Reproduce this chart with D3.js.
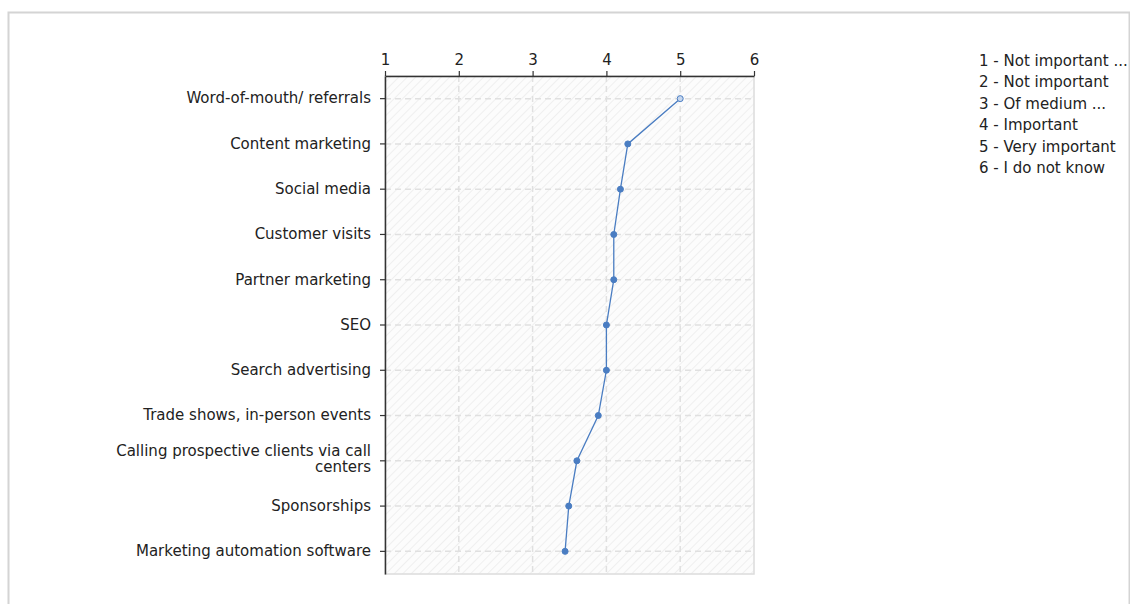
<!DOCTYPE html>
<html>
<head>
<meta charset="utf-8">
<script src="https://cdn.jsdelivr.net/npm/d3@7"></script>
<style>
  html, body { margin: 0; padding: 0; background: #fff; }
  svg { display: block; font-family: "DejaVu Sans", Verdana, sans-serif; }
</style>
</head>
<body>
<svg id="chart" width="1130" height="604"></svg>
<script>
// Channels, top to bottom
const categories = [
  "Word-of-mouth/ referrals",
  "Content marketing",
  "Social media",
  "Customer visits",
  "Partner marketing",
  "SEO",
  "Search advertising",
  "Trade shows, in-person events",
  "Calling prospective clients via call centers",
  "Sponsorships",
  "Marketing automation software"
];
// Mean importance rating per channel
const meanScores = [5.0, 4.29, 4.19, 4.1, 4.1, 4.0, 4.0, 3.89, 3.6, 3.49, 3.44];
// Rating scale
const scaleTicks = [1, 2, 3, 4, 5, 6];
const scaleLabels = [
  "1 - Not important ...",
  "2 - Not important",
  "3 - Of medium ...",
  "4 - Important",
  "5 - Very important",
  "6 - I do not know"
];

const svg = d3.select("#chart");
const plot = { left: 385, right: 754, top: 76, bottom: 574 };
const lineColor = "#4a7dc2";
const font = "DejaVu Sans, Verdana, sans-serif";

// outer panel frame
svg.append("rect")
  .attr("x", 8.5).attr("y", 12.5)
  .attr("width", 1121).attr("height", 600)
  .attr("fill", "none").attr("stroke", "#d4d4d4").attr("stroke-width", 2);

const defs = svg.append("defs");
const pat = defs.append("pattern")
  .attr("id", "hatch").attr("patternUnits", "userSpaceOnUse")
  .attr("width", 6).attr("height", 6)
  .attr("patternTransform", "rotate(45)");
pat.append("rect").attr("width", 6).attr("height", 6).attr("fill", "#fcfcfc");
pat.append("line").attr("x1", 0).attr("y1", 0).attr("x2", 0).attr("y2", 6)
  .attr("stroke", "#e8e8e8").attr("stroke-width", 1.3);

const x = d3.scaleLinear().domain([1, 6]).range([plot.left, plot.right]);
const y = d3.scaleBand().domain(categories).range([plot.top, plot.bottom]);
const yc = d => y(d) + y.bandwidth() / 2;

// plot background
svg.append("rect")
  .attr("x", plot.left).attr("y", plot.top)
  .attr("width", plot.right - plot.left).attr("height", plot.bottom - plot.top)
  .attr("fill", "url(#hatch)")
  .attr("stroke", "#dcdcdc").attr("stroke-width", 1.5);

// grid
const grid = svg.append("g").attr("stroke", "#e0e0e0").attr("stroke-width", 1.5)
  .attr("stroke-dasharray", "6,4");
grid.selectAll("line.v").data(scaleTicks.slice(1, -1)).join("line")
  .attr("x1", d => x(d)).attr("x2", d => x(d))
  .attr("y1", plot.top).attr("y2", plot.bottom);
grid.selectAll("line.h").data(categories).join("line")
  .attr("x1", plot.left).attr("x2", plot.right)
  .attr("y1", d => yc(d)).attr("y2", d => yc(d));

// top axis
const xAxis = d3.axisTop(x).tickValues(scaleTicks).tickFormat(d3.format("d"))
  .tickSizeInner(5).tickSizeOuter(0).tickPadding(6);
const gx = svg.append("g").attr("transform", `translate(0,${plot.top})`).call(xAxis);
gx.select(".domain").attr("stroke", "#333").attr("stroke-width", 1.5);
gx.selectAll(".tick line").attr("stroke", "#333").attr("stroke-width", 1.2);
gx.selectAll(".tick text").attr("font-size", 15).attr("fill", "#222")
  .attr("font-family", font);

// left axis
const yAxis = d3.axisLeft(y).tickSizeInner(5).tickSizeOuter(0).tickPadding(9);
const gy = svg.append("g").attr("transform", `translate(${plot.left},0)`).call(yAxis);
gy.select(".domain").attr("stroke", "#333").attr("stroke-width", 1.5);
gy.selectAll(".tick line").attr("stroke", "#333").attr("stroke-width", 1.2);
gy.selectAll(".tick text").attr("font-size", 15).attr("fill", "#222")
  .attr("font-family", font)
  .each(function(d) {
    const t = d3.select(this);
    if (d === "Calling prospective clients via call centers") {
      t.text(null).attr("dy", null);
      t.append("tspan").attr("x", -14).attr("dy", "-0.3em").text("Calling prospective clients via call");
      t.append("tspan").attr("x", -14).attr("dy", "1.05em").text("centers");
    }
  });

// mean line
const pts = categories.map((c, i) => [x(meanScores[i]), yc(c)]);
svg.append("path")
  .attr("d", d3.line()(pts))
  .attr("fill", "none").attr("stroke", lineColor).attr("stroke-width", 1.3);
svg.selectAll("circle.pt").data(pts).join("circle")
  .attr("class", "pt")
  .attr("cx", d => d[0]).attr("cy", d => d[1]).attr("r", 3)
  .attr("fill", (d, i) => i === 0 ? "#c5d6ee" : lineColor)
  .attr("stroke", lineColor).attr("stroke-width", 1);

// legend
const leg = svg.append("g").attr("font-size", 15).attr("fill", "#222")
  .attr("font-family", font);
leg.selectAll("text").data(scaleLabels).join("text")
  .attr("x", 979).attr("y", (d, i) => 65.5 + i * 21.5)
  .text(d => d);
</script>
</body>
</html>
